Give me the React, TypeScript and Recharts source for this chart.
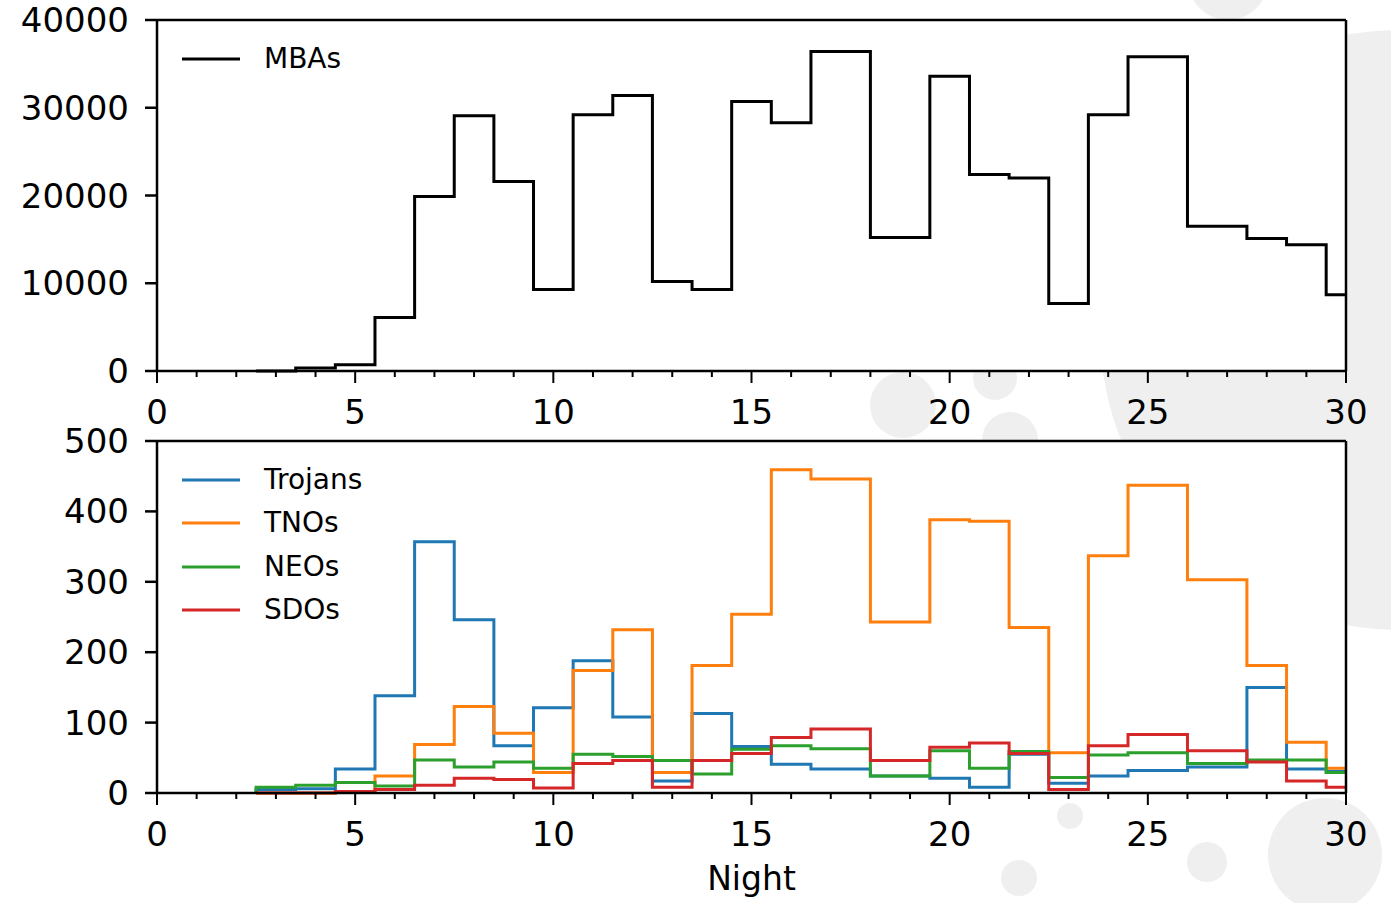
import React from "react";
import {
  LineChart,
  Line,
  XAxis,
  YAxis,
  Legend,
  ReferenceLine,
  CartesianGrid,
} from "recharts";

// bin edges (night), 26 bins
const binEdges = [
  2.5, 3.5, 4.5, 5.5, 6.5, 7.5, 8.5, 9.5, 10.5, 11.5, 12.5, 13.5, 14.5, 15.5,
  16.5, 18.0, 19.5, 20.5, 21.5, 22.5, 23.5, 24.5, 26.0, 27.5, 28.5, 29.5, 30.5,
];

const mbas = [
  0, 350, 700, 6100, 19900, 29100, 21600, 9300, 29200, 31400, 10200, 9300,
  30700, 28300, 36400, 15200, 33600, 22400, 22000, 7700, 29200, 35800, 16500,
  15100, 14400, 8700,
];
const trojans = [
  5, 6, 34, 138, 357, 246, 67, 121, 188, 108, 17, 113, 66, 41, 34, 24, 21, 8,
  55, 14, 24, 32, 37, 150, 34, 31,
];
const tnos = [
  0, 0, 2, 24, 69, 123, 85, 29, 174, 232, 29, 181, 254, 459, 446, 243, 388,
  386, 235, 57, 337, 437, 303, 181, 72, 35,
];
const neos = [
  8, 11, 15, 10, 47, 37, 44, 35, 55, 52, 46, 27, 62, 67, 63, 24, 60, 35, 59,
  22, 54, 57, 42, 47, 47, 29,
];
const sdos = [
  0, 0, 2, 5, 11, 21, 19, 7, 42, 46, 8, 46, 56, 79, 91, 46, 65, 71, 56, 5, 67,
  83, 60, 44, 17, 8,
];

const legendOrder = ["MBAs", "Trojans", "TNOs", "NEOs", "SDOs"];

const xTicks = [
  0, 1, 2, 3, 4, 5, 6, 7, 8, 9, 10, 11, 12, 13, 14, 15, 16, 17, 18, 19, 20, 21,
  22, 23, 24, 25, 26, 27, 28, 29, 30,
];
const topYTicks = [0, 10000, 20000, 30000, 40000];
const bottomYTicks = [0, 100, 200, 300, 400, 500];

const FONT = "'DejaVu Sans', sans-serif";

// matplotlib-style step histogram: rise from 0 at the first edge, fall to 0 at the last
function stepRows(series: Record<string, number[]>) {
  const keys = Object.keys(series);
  const zero: Record<string, number> = {};
  keys.forEach((k) => (zero[k] = 0));
  const rows: Record<string, number>[] = [{ x: binEdges[0], ...zero }];
  binEdges.slice(0, -1).forEach((e, i) => {
    const row: Record<string, number> = { x: e };
    keys.forEach((k) => (row[k] = series[k][i]));
    rows.push(row);
  });
  rows.push({ x: binEdges[binEdges.length - 1], ...zero });
  return rows;
}

const topData = stepRows({ mbas });
const bottomData = stepRows({ trojans, tnos, neos, sdos });

const XTick = (props: any) => {
  const { x, y, payload } = props;
  const major = payload.value % 5 === 0;
  return (
    <g>
      <line
        x1={x}
        x2={x}
        y1={y}
        y2={y + (major ? 12 : 6)}
        stroke="#000"
        strokeWidth={2}
      />
      {major && (
        <text
          x={x}
          y={y + 53}
          textAnchor="middle"
          fontSize={34}
          fontFamily={FONT}
          fill="#000"
        >
          {payload.value}
        </text>
      )}
    </g>
  );
};

const LegendBox = (props: any) => {
  const items = [...(props.payload || [])].sort(
    (a: any, b: any) => legendOrder.indexOf(a.value) - legendOrder.indexOf(b.value)
  );
  return (
    <div style={{ fontFamily: FONT }}>
      {items.map((p: any) => (
        <div
          key={p.value}
          style={{ height: 43.5, display: "flex", alignItems: "center" }}
        >
          <svg width={82} height={10}>
            <line x1={0} x2={58} y1={5} y2={5} stroke={p.color} strokeWidth={3} />
          </svg>
          <span style={{ fontSize: 28, color: "#000", lineHeight: 1 }}>
            {p.value}
          </span>
        </div>
      ))}
    </div>
  );
};

// light grey discs of the page behind the (transparent) figure
const Backdrop = () => (
  <svg
    width={1391}
    height={903}
    style={{ position: "absolute", left: 0, top: 0 }}
  >
    <g fill="#efefef">
      <circle cx={1400} cy={330} r={300} />
      <circle cx={1228} cy={-20} r={40} />
      <circle cx={903} cy={405} r={33} />
      <circle cx={995} cy={378} r={22} />
      <circle cx={1010} cy={440} r={28} />
      <circle cx={1070} cy={816} r={13} />
      <circle cx={1019} cy={878} r={18} />
      <circle cx={1207} cy={862} r={20} />
      <circle cx={1325} cy={855} r={57} />
    </g>
  </svg>
);

export default function App() {
  const axisLine = { stroke: "#000", strokeWidth: 2.5 };
  const yTick = { fill: "#000", fontSize: 34, fontFamily: FONT };
  const spine = { stroke: "#000", strokeWidth: 2.5 };

  return (
    <div
      style={{
        position: "absolute",
        left: 0,
        top: 0,
        width: 1391,
        height: 903,
        background: "#fff",
        fontFamily: FONT,
      }}
    >
      <Backdrop />
      <div style={{ position: "absolute", left: 0, top: 0 }}>
        <LineChart
          width={1391}
          height={445}
          data={topData}
          margin={{ top: 20, right: 45, bottom: 14, left: 0 }}
        >
          <CartesianGrid horizontal={false} vertical={false} fill="#fff" />
          <XAxis
            dataKey="x"
            type="number"
            domain={[0, 30]}
            allowDataOverflow
            ticks={xTicks}
            interval={0}
            tick={<XTick />}
            tickLine={false}
            tickSize={0}
            tickMargin={0}
            axisLine={axisLine}
            height={60}
          />
          <YAxis
            type="number"
            domain={[0, 40000]}
            ticks={topYTicks}
            interval={0}
            tick={yTick}
            tickSize={12}
            tickMargin={16}
            tickLine={axisLine}
            axisLine={axisLine}
            width={157}
          />
          <Legend
            layout="vertical"
            align="center"
            verticalAlign="middle"
            content={<LegendBox />}
            wrapperStyle={{ left: 182, top: 37, width: 200 }}
          />
          <Line
            type="stepAfter"
            dataKey="mbas"
            name="MBAs"
            stroke="#000000"
            strokeWidth={3}
            dot={false}
            isAnimationActive={false}
          />
          <ReferenceLine y={40000} {...spine} />
          <ReferenceLine x={30} {...spine} />
        </LineChart>
      </div>
      <div style={{ position: "absolute", left: 0, top: 410 }}>
        <LineChart
          width={1391}
          height={493}
          data={bottomData}
          margin={{ top: 31, right: 45, bottom: 10, left: 0 }}
        >
          <CartesianGrid horizontal={false} vertical={false} fill="#fff" />
          <XAxis
            dataKey="x"
            type="number"
            domain={[0, 30]}
            allowDataOverflow
            ticks={xTicks}
            interval={0}
            tick={<XTick />}
            tickLine={false}
            tickSize={0}
            tickMargin={0}
            axisLine={axisLine}
            height={100}
            label={{
              value: "Night",
              position: "insideBottom",
              offset: 3,
              fill: "#000",
              fontSize: 33,
              fontFamily: FONT,
            }}
          />
          <YAxis
            type="number"
            domain={[0, 500]}
            ticks={bottomYTicks}
            interval={0}
            tick={yTick}
            tickSize={12}
            tickMargin={16}
            tickLine={axisLine}
            axisLine={axisLine}
            width={157}
          />
          <Legend
            layout="vertical"
            align="center"
            verticalAlign="middle"
            content={<LegendBox />}
            wrapperStyle={{ left: 182, top: 48, width: 200 }}
          />
          <Line type="stepAfter" dataKey="trojans" name="Trojans" stroke="#1f77b4" strokeWidth={3} dot={false} isAnimationActive={false} />
          <Line type="stepAfter" dataKey="tnos" name="TNOs" stroke="#ff7f0e" strokeWidth={3} dot={false} isAnimationActive={false} />
          <Line type="stepAfter" dataKey="neos" name="NEOs" stroke="#2ca02c" strokeWidth={3} dot={false} isAnimationActive={false} />
          <Line type="stepAfter" dataKey="sdos" name="SDOs" stroke="#d62728" strokeWidth={3} dot={false} isAnimationActive={false} />
          <ReferenceLine y={500} {...spine} />
          <ReferenceLine x={30} {...spine} />
        </LineChart>
      </div>
    </div>
  );
}
